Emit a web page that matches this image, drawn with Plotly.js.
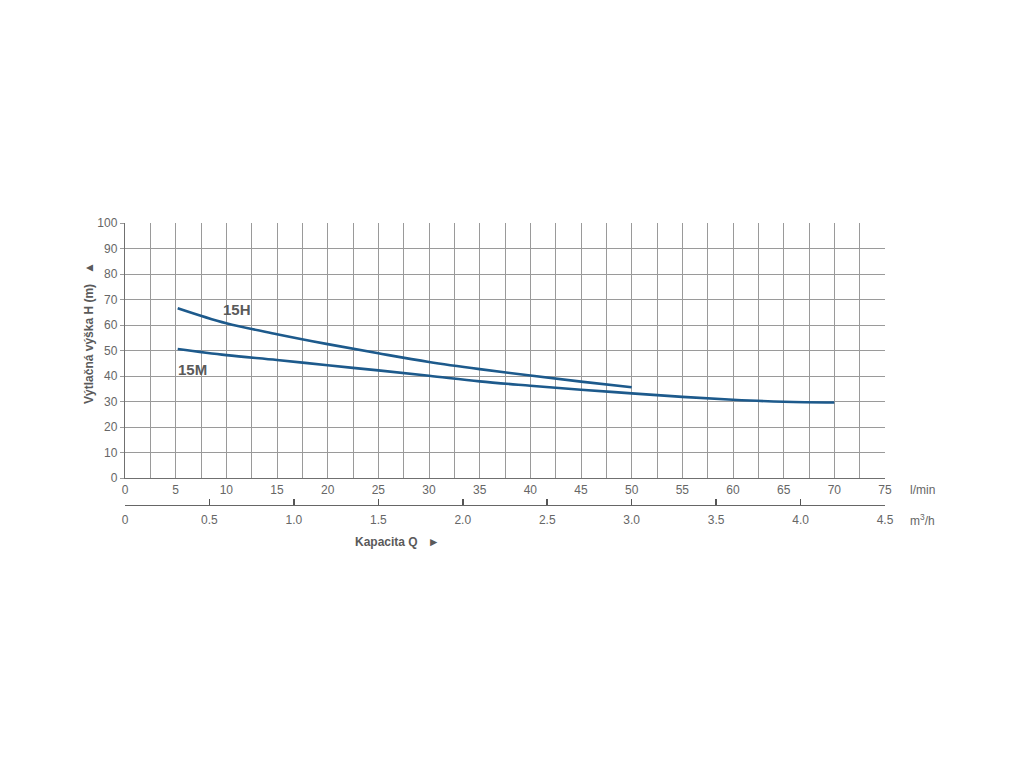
<!DOCTYPE html>
<html>
<head>
<meta charset="utf-8">
<script src="https://cdn.plot.ly/plotly-3.0.1.min.js"></script>
<style>html,body{margin:0;padding:0;background:#fff;}#chart{width:1024px;height:768px;}</style>
</head>
<body>
<div id="chart"></div>
<script>
// Flow (l/min) and head (m)
const q15H = [5.2, 10, 15, 20, 25, 30, 35, 40, 45, 50];
const h15H = [66.6, 60.7, 56.4, 52.5, 48.9, 45.5, 42.7, 40.2, 37.8, 35.6];
const q15M = [5.2, 10, 15, 20, 25, 30, 35, 40, 45, 50, 55, 60, 65, 70];
const h15M = [50.6, 48.2, 46.3, 44.2, 42.2, 40.1, 37.9, 36.2, 34.6, 33.2, 31.8, 30.7, 29.9, 29.6];
const m3hTicks = [0, 0.5, 1.0, 1.5, 2.0, 2.5, 3.0, 3.5, 4.0, 4.5];
const m3hLabels = ['0', '0.5', '1.0', '1.5', '2.0', '2.5', '3.0', '3.5', '4.0', '4.5'];
const seriesNames = ['15H', '15M'];

const lineColor = '#1d5a8c';
const textColor = '#5a5a5a';
const fam = 'Liberation Sans, Arial, sans-serif';
const tickFont = {family: fam, size: 12, color: '#666'};

const traces = [
  {x: q15H, y: h15H, mode: 'lines', line: {color: lineColor, width: 2.6, shape: 'spline'}, name: seriesNames[0], xaxis: 'x', yaxis: 'y', hoverinfo: 'skip'},
  {x: q15M, y: h15M, mode: 'lines', line: {color: lineColor, width: 2.6, shape: 'spline'}, name: seriesNames[1], xaxis: 'x', yaxis: 'y', hoverinfo: 'skip'},
  // invisible helper so the m3/h axis is drawn
  {x: m3hTicks, y: m3hTicks.map(() => -50), mode: 'markers', marker: {opacity: 0}, xaxis: 'x2', yaxis: 'y', hoverinfo: 'skip', showlegend: false}
];

const layout = {
  width: 1024, height: 768,
  paper_bgcolor: '#fff', plot_bgcolor: '#fff',
  showlegend: false,
  margin: {l: 125, r: 139, t: 223, b: 263, pad: 0},
  xaxis: {
    range: [0, 75], dtick: 5, tick0: 0, anchor: 'y',
    showgrid: true, gridcolor: '#9a9a9a', gridwidth: 1,
    minor: {dtick: 2.5, showgrid: true, gridcolor: '#9a9a9a', gridwidth: 1},
    showline: true, linecolor: '#707070', linewidth: 1.2,
    ticks: '', tickfont: tickFont, zeroline: false, fixedrange: true
  },
  xaxis2: {
    range: [0, 4.5], overlaying: 'x', anchor: 'free', position: 0, side: 'bottom',
    tickmode: 'array', tickvals: m3hTicks, ticktext: m3hLabels,
    showgrid: false, zeroline: false,
    showline: true, linecolor: '#666', linewidth: 1.3,
    ticks: 'inside', ticklen: 6, tickcolor: '#555', tickwidth: 1.5,
    ticklabelstandoff: 3,
    tickfont: tickFont, fixedrange: true
  },
  yaxis: {
    range: [0, 100], dtick: 10, domain: [27/282, 1],
    showgrid: true, gridcolor: '#9a9a9a', gridwidth: 1,
    showline: true, linecolor: '#707070', linewidth: 1.2,
    ticks: 'outside', ticklen: 4, tickcolor: '#9a9a9a',
    tickfont: tickFont, zeroline: false, fixedrange: true
  },
  annotations: [
    {text: '15H', x: 11.05, y: 65.9, xref: 'x', yref: 'y', xanchor: 'center', yanchor: 'middle', showarrow: false,
     font: {family: fam, size: 15, color: textColor, weight: 'bold'}},
    {text: '15M', x: 6.7, y: 42.7, xref: 'x', yref: 'y', xanchor: 'center', yanchor: 'middle', showarrow: false,
     font: {family: fam, size: 15, color: textColor, weight: 'bold'}},
    {text: 'Výtlačná výška H (m)   ▲', x: -0.0474, y: 0.61, xref: 'paper', yref: 'paper', xanchor: 'center', yanchor: 'middle', showarrow: false, textangle: -90,
     font: {family: fam, size: 12, color: textColor, weight: 'bold'}},
    {text: 'Kapacita Q   ►', x: 0.359, y: -0.131, xref: 'paper', yref: 'paper', xanchor: 'center', yanchor: 'middle', showarrow: false,
     font: {family: fam, size: 12, color: textColor, weight: 'bold'}},
    {text: 'l/min', x: 1.030, y: 0.053, xref: 'paper', yref: 'paper', xanchor: 'left', yanchor: 'middle', showarrow: false,
     font: {family: fam, size: 12, color: '#666'}},
    {text: 'm<sup>3</sup>/h', x: 1.030, y: -0.053, xref: 'paper', yref: 'paper', xanchor: 'left', yanchor: 'middle', showarrow: false,
     font: {family: fam, size: 12, color: '#666'}}
  ]
};

Plotly.newPlot('chart', traces, layout, {displayModeBar: false, staticPlot: true});
</script>
</body>
</html>
